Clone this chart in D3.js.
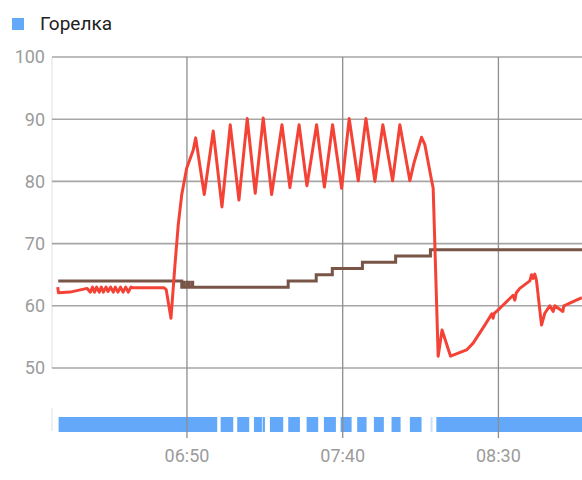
<!DOCTYPE html>
<html>
<head>
<meta charset="utf-8">
<script src="https://cdn.jsdelivr.net/npm/d3@7"></script>
<style>
  body { margin: 0; background: #fff; }
  svg { display: block; font-family: Roboto, "Noto Sans", sans-serif; }
</style>
</head>
<body>
<div id="chart"></div>
<script>
// температура котла (красная линия)
var tempTimes = ["06:08:30","06:08:45","06:12:27","06:17:54",
  "06:19:00","06:19:40","06:20:20","06:21:00","06:21:50","06:22:30","06:23:10","06:24:00","06:24:40",
  "06:25:30","06:26:20","06:27:00","06:27:50","06:28:40","06:29:30","06:30:20","06:31:10","06:32:00",
  "06:32:40","06:42:40","06:43:20","06:44:52","06:46:09","06:47:12","06:48:18","06:49:54","06:52:00",
  "06:52:48","06:55:33","06:58:26","07:01:14","07:03:54","07:06:41","07:09:21","07:11:55","07:14:29",
  "07:17:11","07:20:30","07:23:03","07:26:00","07:28:31","07:31:37","07:34:08","07:36:45","07:39:39",
  "07:42:05","07:45:00","07:47:27","07:50:20","07:52:54","07:56:01","07:58:21","08:01:34","08:02:51",
  "08:05:19","08:06:23","08:08:32","08:09:03","08:10:39","08:11:54","08:14:38","08:19:46","08:21:53",
  "08:25:38","08:27:53","08:28:18","08:28:41","08:30:27","08:34:43","08:35:16","08:35:45","08:36:52",
  "08:40:05","08:40:38","08:41:08","08:41:41","08:42:13","08:43:50","08:44:53","08:46:30","08:47:35",
  "08:48:07","08:50:41","08:51:00","08:56:48"];
var tempValues = [63.0,62.1,62.2,62.8,
  62.2,63.0,62.2,63.0,62.2,63.0,62.2,63.0,62.3,
  63.0,62.2,63.0,62.2,63.0,62.2,63.0,62.2,63.0,
  62.9,62.9,62.6,58.0,66.6,73.0,77.8,82.1,85.0,
  87.0,77.9,88.1,75.9,89.1,77.0,90.1,78.1,90.2,
  77.9,89.1,79.0,89.1,79.3,89.1,79.1,89.1,78.9,
  90.1,80.1,90.1,80.0,89.1,80.1,89.1,80.1,82.9,
  87.1,85.9,80.2,78.9,51.9,56.1,51.9,52.9,54.0,
  56.9,58.7,58.0,58.8,59.6,61.7,60.9,62.1,62.8,
  64.0,65.0,64.4,65.1,64.1,56.9,58.8,60.0,59.1,
  60.0,59.1,60.0,61.3];

// уставка (коричневая линия)
var setTimes = ["06:08:40","06:48:20","06:48:50","06:49:10","06:50:10","06:50:30","06:51:30","06:51:50",
  "07:22:30","07:31:30","07:36:40","07:46:20","07:57:00","08:08:10","08:56:50"];
var setValues = [64,63,63.8,63,63.8,63,63.8,63,64,65,66,67,68,69,69];

// Горелка: интервалы включения
var burnerStart = ["06:08:47","07:00:49","07:06:08","07:11:30","07:14:17","07:16:38","07:22:31","07:28:25",
  "07:33:58","07:39:20","07:44:39","07:50:01","07:55:41","08:01:34","08:08:13","08:10:04"];
var burnerEnd = ["06:59:43","07:04:52","07:09:59","07:14:04","07:15:02","07:20:54","07:26:16","07:32:08",
  "07:37:49","07:42:52","07:47:40","07:53:13","07:58:35","08:05:19","08:08:51","08:56:50"];

var yTicks = [50, 60, 70, 80, 90, 100];
var xTicks = ["06:50:00", "07:40:00", "08:30:00"];
var timeDomain = ["06:06:40", "08:56:50"];

var parseT = d3.timeParse("%H:%M:%S");
var fmt = d3.timeFormat("%H:%M");

var W = 582, H = 480;
var plotLeft = 52, plotRight = 582, plotTop = 57;

var svg = d3.select("#chart").append("svg").attr("width", W).attr("height", H);

var x = d3.scaleTime().domain(timeDomain.map(parseT)).range([plotLeft, plotRight]);
var y = d3.scaleLinear().domain([50, 100]).range([368, plotTop]);

// легенда
svg.append("rect").attr("x", 12).attr("y", 18).attr("width", 12).attr("height", 12).attr("fill", "#64a9f9");
svg.append("text").attr("x", 40).attr("y", 30).attr("font-size", 19).attr("fill", "#212121").text("Горелка");

// полоса горелки
var burner = burnerStart.map(function(s, i) { return { s: parseT(s), e: parseT(burnerEnd[i]) }; });
svg.append("g").selectAll("rect").data(burner).enter().append("rect")
  .attr("x", function(d) { return x(d.s); })
  .attr("width", function(d) { return x(d.e) - x(d.s); })
  .attr("y", 417).attr("height", 15)
  .attr("fill", "#64a9f9")
  .attr("opacity", function(d, i) { return i === burner.length - 2 ? 0.35 : 1; });

svg.append("line").attr("x1", plotLeft).attr("x2", plotLeft).attr("y1", 408).attr("y2", 431)
  .attr("stroke", "#e4e4e4").attr("stroke-width", 1.2);

// сетка
svg.append("line").attr("x1", plotLeft).attr("x2", plotLeft).attr("y1", plotTop).attr("y2", y(50))
  .attr("stroke", "#e4e4e4").attr("stroke-width", 1.2);

svg.append("g").selectAll("line").data(yTicks).enter().append("line")
  .attr("x1", plotLeft).attr("x2", plotRight)
  .attr("y1", function(d) { return y(d); }).attr("y2", function(d) { return y(d); })
  .attr("stroke", "#a6a6a6").attr("stroke-width", 1.6);

svg.append("g").selectAll("line").data(xTicks).enter().append("line")
  .attr("x1", function(d) { return x(parseT(d)); }).attr("x2", function(d) { return x(parseT(d)); })
  .attr("y1", plotTop).attr("y2", 438)
  .attr("stroke", "#8e8e8e").attr("stroke-width", 1.3);

svg.append("g").selectAll("text").data(yTicks).enter().append("text")
  .attr("x", 45).attr("y", function(d) { return y(d); }).attr("dy", "0.36em")
  .attr("text-anchor", "end").attr("font-size", 18).attr("fill", "#9b9b9b")
  .text(function(d) { return d; });

svg.append("g").selectAll("text").data(xTicks).enter().append("text")
  .attr("x", function(d) { return x(parseT(d)); }).attr("y", 462)
  .attr("text-anchor", "middle").attr("font-size", 18).attr("fill", "#9b9b9b")
  .text(function(d) { return fmt(parseT(d)); });

// линии
var setLine = d3.line().curve(d3.curveStepAfter)
  .x(function(d, i) { return x(parseT(setTimes[i])); })
  .y(function(d) { return y(d); });
svg.append("path").datum(setValues).attr("d", setLine)
  .attr("fill", "none").attr("stroke", "#795548").attr("stroke-width", 3);

var tempLine = d3.line()
  .x(function(d, i) { return x(parseT(tempTimes[i])); })
  .y(function(d) { return y(d); });
svg.append("path").datum(tempValues).attr("d", tempLine)
  .attr("fill", "none").attr("stroke", "#f44336").attr("stroke-width", 3)
  .attr("stroke-linejoin", "round");
</script>
</body>
</html>
